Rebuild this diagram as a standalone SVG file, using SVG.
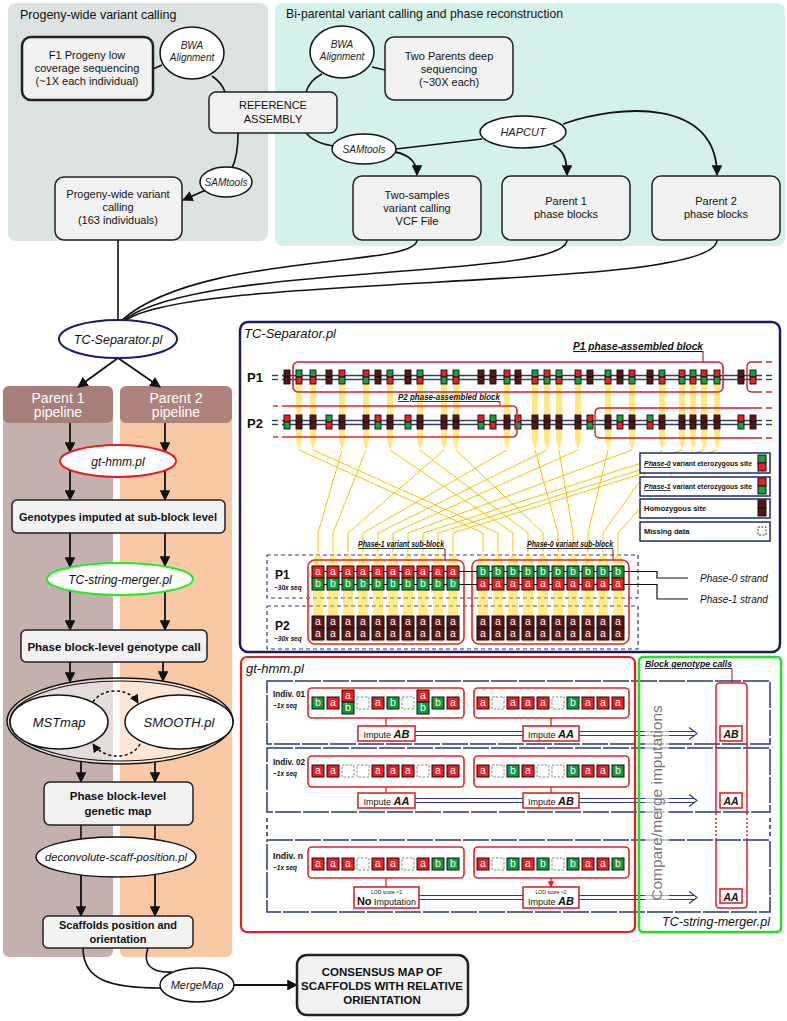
<svg xmlns="http://www.w3.org/2000/svg" width="787" height="1021" viewBox="0 0 787 1021">
<style>
text{font-family:"Liberation Sans",Arial,sans-serif;fill:#111}
.n{fill:#f2f2f2;stroke:#222;stroke-width:1.5}
.e{fill:#fff;stroke:#111;stroke-width:1.5}
.t{font-size:11px;text-anchor:middle}
.ti{font-size:10px;font-style:italic;text-anchor:middle;fill:#222}
.b{font-weight:bold}
.c{fill:none;stroke:#111;stroke-width:1.6}
.ca{fill:none;stroke:#111;stroke-width:1.8;marker-end:url(#ah)}
.cw{font-size:10.5px;fill:#fff;text-anchor:middle}
.yl{fill:none;stroke:#f5c400;stroke-width:1}
.rb{fill:none;stroke:#d62a2a;stroke-width:1.6}
.nv{fill:none;stroke:#2b3a78;stroke-width:1.5;stroke-dasharray:26 2}
.lg{fill:#fff;stroke:#1f2d6b;stroke-width:1.5}
.lt{font-size:7.5px;font-weight:bold}
.dl{fill:none;stroke:#2b3a78;stroke-width:1.2}
.im{fill:#fff;stroke:#d62a2a;stroke-width:1.6}
.pl{stroke:#33415f;stroke-width:1.4}
.il{font-size:8.5px;font-weight:bold}
.is{font-size:6.5px;font-weight:bold;font-style:italic}
</style>
<defs>
<marker id="ah" viewBox="0 0 10 10" refX="9" refY="5" markerWidth="6" markerHeight="6" orient="auto"><path d="M0,0 L10,5 L0,10 z" fill="#111"/></marker>
<marker id="ahr" viewBox="0 0 10 10" refX="9" refY="5" markerWidth="5" markerHeight="5" orient="auto"><path d="M0,0 L10,5 L0,10 z" fill="#e02020"/></marker>
<g id="mGR"><rect x="-3" y="0" width="6" height="7" fill="#17a03c" stroke="#111" stroke-width="0.9"/><rect x="-3" y="7" width="6" height="7" fill="#ee1c24" stroke="#111" stroke-width="0.9"/></g>
<g id="mRG"><rect x="-3" y="0" width="6" height="7" fill="#ee1c24" stroke="#111" stroke-width="0.9"/><rect x="-3" y="7" width="6" height="7" fill="#17a03c" stroke="#111" stroke-width="0.9"/></g>
<g id="mDD"><rect x="-3" y="0" width="6" height="7" fill="#5a1616" stroke="#111" stroke-width="0.9"/><rect x="-3" y="7" width="6" height="7" fill="#5a1616" stroke="#111" stroke-width="0.9"/></g>
<rect id="cr" x="-6" width="12" height="12" fill="#ee1c24" stroke="#111" stroke-width="1"/>
<rect id="cg" x="-6" width="12" height="12" fill="#15983b" stroke="#111" stroke-width="1"/>
<rect id="cd" x="-6" width="12" height="12" fill="#5a1616" stroke="#111" stroke-width="1"/>
<rect id="cm" x="-6" width="12" height="12" fill="#fff" stroke="#888" stroke-width="1" stroke-dasharray="2.5 1.5"/>
<polygon id="yb" points="-3,384 3,384 3,440 0,450 -3,440" fill="#ffd400" opacity="0.5"/>
<polygon id="yc" points="0,552 5,560 5,642 -5,642 -5,560" fill="#ffd400" opacity="0.45"/>
</defs>
<rect width="787" height="1021" fill="#fff"/>

<!-- top panels -->
<g id="panel-progeny"><rect x="8" y="3" width="260" height="238" rx="8" fill="#dde3e3"/><text x="20" y="19" font-size="12.5">Progeny-wide variant calling</text></g>
<g id="panel-biparental"><rect x="275" y="3" width="510" height="243" rx="8" fill="#d5f1ec"/><text x="286" y="18" font-size="12.2">Bi-parental variant calling and phase reconstruction</text></g>

<!-- left pipeline columns -->
<g id="col-parent1"><rect x="3" y="386" width="110" height="571" rx="6" fill="#c4b1ae"/><rect x="3" y="386" width="110" height="37" rx="6" fill="#a67f7a"/><text x="58" y="403" font-size="14" text-anchor="middle" style="fill:#fff">Parent 1</text><text x="58" y="417" font-size="14" text-anchor="middle" style="fill:#fff">pipeline</text></g>
<g id="col-parent2"><rect x="120" y="386" width="112" height="571" rx="6" fill="#f9c8a4"/><rect x="120" y="386" width="112" height="37" rx="6" fill="#ae837e"/><text x="176" y="403" font-size="14" text-anchor="middle" style="fill:#fff">Parent 2</text><text x="176" y="417" font-size="14" text-anchor="middle" style="fill:#fff">pipeline</text></g>

<!-- connectors -->
<g id="connectors">
<path class="c" d="M153,69 L162,65"/>
<path class="c" d="M212,76 Q222,83 225,92"/>
<path class="c" d="M238,133 C238,150 236,160 232,168"/>
<path class="ca" d="M206,190 L183,200"/>
<path class="c" d="M372,67 L385,70"/>
<path class="c" d="M322,74 Q310,80 306,92"/>
<path class="c" d="M306,133 Q314,143 333,146"/>
<path class="ca" d="M395,152 C410,155 417,162 417,175"/>
<path class="c" d="M396,149 L482,139"/>
<path class="ca" d="M553,145 C563,150 567,158 567,175"/>
<path class="ca" d="M563,124 C620,104 717,98 717,175"/>
<path class="c" d="M118,240 L118,320"/>
<path class="c" d="M417,240 C417,268 200,252 122,320"/>
<path class="c" d="M567,240 C567,280 200,262 124,320"/>
<path class="c" d="M717,240 C717,292 200,272 126,320"/>
<path class="ca" d="M118,358 L78,387"/>
<path class="ca" d="M118,358 L160,387"/>
<path class="ca" d="M70,423 L70,452"/>
<path class="ca" d="M165,423 L165,452"/>
<path class="ca" d="M70,470 L70,500"/>
<path class="ca" d="M165,470 L165,500"/>
<path class="ca" d="M70,533 L70,567"/>
<path class="ca" d="M165,533 L165,566"/>
<path class="ca" d="M70,591 L70,630"/>
<path class="ca" d="M165,591 L165,630"/>
<path class="ca" d="M70,662 L70,682"/>
<path class="ca" d="M163,662 L163,681"/>
<path class="ca" d="M81,761 L81,782"/>
<path class="ca" d="M155,762 L155,782"/>
<path class="c" d="M81,825 L81,839"/>
<path class="c" d="M155,825 L155,839"/>
<path class="ca" d="M81,875 L81,916"/>
<path class="ca" d="M155,875 L155,916"/>
<path class="c" d="M83,948 C83,980 110,988 160,988"/>
<path class="c" d="M148,948 C142,965 152,973 172,972"/>
<path class="ca" d="M234,985 L297,985"/>
</g>

<!-- top nodes -->
<g id="node-f1"><rect class="n" x="22" y="37" width="131" height="63" rx="9" style="stroke-width:2.5"/><text class="t" x="87" y="59">F1 Progeny low</text><text class="t" x="87" y="72">coverage sequencing</text><text class="t" x="87" y="85">(~1X each individual)</text></g>
<g id="node-bwa1"><ellipse class="e" cx="192" cy="53" rx="32" ry="26"/><text class="ti" x="192" y="49">BWA</text><text class="ti" x="192" y="61">Alignment</text></g>
<g id="node-ref"><rect class="n" x="209" y="92" width="128" height="41" rx="7"/><text class="t" x="273" y="109">REFERENCE</text><text class="t" x="273" y="123">ASSEMBLY</text></g>
<g id="node-sam1"><ellipse class="e" cx="226" cy="182" rx="26" ry="15"/><text class="ti" x="226" y="186">SAMtools</text></g>
<g id="node-progeny"><rect class="n" x="55" y="177" width="127" height="63" rx="9"/><text class="t" x="118" y="198">Progeny-wide variant</text><text class="t" x="118" y="211">calling</text><text class="t" x="118" y="224">(163 individuals)</text></g>
<g id="node-bwa2"><ellipse class="e" cx="342" cy="52" rx="32" ry="26"/><text class="ti" x="342" y="48">BWA</text><text class="ti" x="342" y="60">Alignment</text></g>
<g id="node-parents"><rect class="n" x="385" y="37" width="128" height="63" rx="9"/><text class="t" x="449" y="60">Two Parents deep</text><text class="t" x="449" y="73">sequencing</text><text class="t" x="449" y="86">(~30X each)</text></g>
<g id="node-sam2"><ellipse class="e" cx="364" cy="149" rx="32" ry="15"/><text class="ti" x="364" y="153">SAMtools</text></g>
<g id="node-hapcut"><ellipse class="e" cx="523" cy="132" rx="43" ry="16"/><text class="ti" x="523" y="136" style="font-size:11px">HAPCUT</text></g>
<g id="node-vcf"><rect class="n" x="353" y="176" width="128" height="64" rx="9"/><text class="t" x="417" y="199">Two-samples</text><text class="t" x="417" y="212">variant calling</text><text class="t" x="417" y="225">VCF File</text></g>
<g id="node-p1blocks"><rect class="n" x="502" y="176" width="128" height="64" rx="9"/><text class="t" x="566" y="205">Parent 1</text><text class="t" x="566" y="218">phase blocks</text></g>
<g id="node-p2blocks"><rect class="n" x="652" y="176" width="128" height="64" rx="9"/><text class="t" x="716" y="205">Parent 2</text><text class="t" x="716" y="218">phase blocks</text></g>

<!-- left pipeline nodes -->
<g id="node-tcsep"><ellipse cx="118" cy="339" rx="59" ry="19" fill="#fff" stroke="#1b1b6b" stroke-width="2"/><text x="118" y="344" font-size="12.5" font-style="italic" text-anchor="middle">TC-Separator.pl</text></g>
<g id="node-gthmm"><ellipse cx="118" cy="461" rx="58" ry="16" fill="#fff" stroke="#e01f1f" stroke-width="2"/><text x="118" y="466" font-size="12" font-style="italic" text-anchor="middle">gt-hmm.pl</text></g>
<g id="node-imputed"><rect class="n" x="12" y="500" width="213" height="33" rx="5"/><text class="t b" x="118" y="521">Genotypes imputed at sub-block level</text></g>
<g id="node-merger"><ellipse cx="120" cy="579" rx="73" ry="16" fill="#fff" stroke="#22ee22" stroke-width="2"/><text x="120" y="584" font-size="12" font-style="italic" text-anchor="middle">TC-string-merger.pl</text></g>
<g id="node-blockcall"><rect class="n" x="21" y="630" width="186" height="32" rx="5"/><text class="t b" x="114" y="651" style="font-size:11.5px">Phase block-level genotype call</text></g>
<g id="node-mapping"><ellipse cx="120" cy="721" rx="113" ry="43" fill="#fff" fill-opacity="0.55" stroke="#111" stroke-width="1.5"/><ellipse cx="120" cy="721" rx="110" ry="40" fill="none" stroke="#111" stroke-width="1.2"/>
<ellipse class="e" cx="59" cy="722" rx="49" ry="27"/><text x="59" y="727" font-size="13" font-style="italic" text-anchor="middle">MSTmap</text>
<ellipse class="e" cx="179" cy="722" rx="54" ry="27"/><text x="179" y="727" font-size="13" font-style="italic" text-anchor="middle">SMOOTH.pl</text>
<path d="M93,702 C102,688 128,686 138,703" fill="none" stroke="#111" stroke-width="1.5" stroke-dasharray="3 2.5" marker-end="url(#ah)"/>
<path d="M140,744 C132,760 104,760 93,744" fill="none" stroke="#111" stroke-width="1.5" stroke-dasharray="3 2.5" marker-end="url(#ah)"/></g>
<g id="node-genmap"><rect class="n" x="44" y="782" width="149" height="43" rx="6"/><text class="t b" x="118" y="800" style="font-size:11.5px">Phase block-level</text><text class="t b" x="118" y="815" style="font-size:11.5px">genetic map</text></g>
<g id="node-deconv"><ellipse class="e" cx="116" cy="857" rx="80" ry="20"/><text x="116" y="861" font-size="11.2" font-style="italic" text-anchor="middle">deconvolute-scaff-position.pl</text></g>
<g id="node-scaff"><rect class="n" x="43" y="916" width="150" height="32" rx="5"/><text class="t b" x="118" y="929">Scaffolds position and</text><text class="t b" x="118" y="943">orientation</text></g>
<g id="node-mergemap"><ellipse class="e" cx="197" cy="985" rx="37" ry="17"/><text x="197" y="989" font-size="11" font-style="italic" text-anchor="middle">MergeMap</text></g>
<g id="node-consensus"><rect class="n" x="297" y="955" width="171" height="60" rx="10" style="stroke-width:2.5"/><text class="t b" x="382" y="976" style="font-size:11.5px">CONSENSUS MAP OF</text><text class="t b" x="382" y="990" style="font-size:11.5px">SCAFFOLDS WITH RELATIVE</text><text class="t b" x="382" y="1004" style="font-size:11.5px">ORIENTATION</text></g>

<!-- TC-Separator panel -->
<g id="panel-tcsep">
<rect x="240" y="322" width="540" height="330" rx="8" fill="#fff"/>
<text x="244" y="338" font-size="13" font-style="italic">TC-Separator.pl</text>
<text x="247" y="382" font-size="13" font-weight="bold">P1</text>
<text x="247" y="428" font-size="13" font-weight="bold">P2</text>
<line class="pl" x1="272" y1="375.5" x2="278" y2="375.5"/><line class="pl" x1="272" y1="379.5" x2="278" y2="379.5"/>
<line class="pl" x1="282" y1="375.5" x2="762" y2="375.5"/><line class="pl" x1="282" y1="379.5" x2="762" y2="379.5"/>
<line class="pl" x1="766" y1="375.5" x2="772" y2="375.5"/><line class="pl" x1="766" y1="379.5" x2="772" y2="379.5"/>
<line class="pl" x1="272" y1="420.5" x2="278" y2="420.5"/><line class="pl" x1="272" y1="424.5" x2="278" y2="424.5"/>
<line class="pl" x1="282" y1="420.5" x2="762" y2="420.5"/><line class="pl" x1="282" y1="424.5" x2="762" y2="424.5"/>
<line class="pl" x1="766" y1="420.5" x2="772" y2="420.5"/><line class="pl" x1="766" y1="424.5" x2="772" y2="424.5"/>
<use href="#yb" x="299"/><use href="#yb" x="313"/><use href="#yb" x="342"/><use href="#yb" x="366"/><use href="#yb" x="390"/><use href="#yb" x="420"/><use href="#yb" x="444"/><use href="#yb" x="456"/><use href="#yb" x="507"/><use href="#yb" x="535"/><use href="#yb" x="547"/><use href="#yb" x="559"/><use href="#yb" x="578"/><use href="#yb" x="608"/><use href="#yb" x="632"/><use href="#yb" x="662"/><use href="#yb" x="682"/><use href="#yb" x="693"/><use href="#yb" x="704"/><use href="#yb" x="717"/>
<path class="yl" d="M342,450 L318,533 L318,552 M366,450 L333,533 L333,552 M444,450 L348,533 L348,552 M507,450 L363,533 L363,552 M547,450 L378,533 L378,552 M578,450 L393,533 L393,552 M632,450 L408,533 L408,552 M682,450 L423,533 L423,552 M704,450 L438,533 L438,552 M717,450 L453,533 L453,552"/>
<path class="yl" d="M299,450 L483,533 L483,552 M313,450 L498,533 L498,552 M390,450 L513,533 L513,552 M420,450 L528,533 L528,552 M456,450 L543,533 L543,552 M535,450 L558,533 L558,552 M559,450 L573,533 L573,552 M608,450 L588,533 L588,552 M662,450 L603,533 L603,552 M693,450 L618,533 L618,552"/>
<g transform="translate(0,370)">
<use href="#mDD" x="287"/><use href="#mGR" x="299"/><use href="#mGR" x="313"/><use href="#mDD" x="329"/><use href="#mRG" x="342"/><use href="#mRG" x="366"/><use href="#mDD" x="378"/><use href="#mGR" x="390"/><use href="#mDD" x="408"/><use href="#mGR" x="420"/><use href="#mRG" x="444"/><use href="#mGR" x="456"/><use href="#mDD" x="481"/><use href="#mDD" x="493"/><use href="#mRG" x="507"/><use href="#mDD" x="518"/><use href="#mGR" x="535"/><use href="#mRG" x="547"/><use href="#mGR" x="559"/><use href="#mRG" x="578"/><use href="#mDD" x="590"/><use href="#mGR" x="608"/><use href="#mDD" x="620"/><use href="#mRG" x="632"/><use href="#mDD" x="650"/><use href="#mGR" x="662"/><use href="#mRG" x="682"/><use href="#mGR" x="693"/><use href="#mRG" x="704"/><use href="#mRG" x="717"/><use href="#mDD" x="741"/><use href="#mGR" x="753"/>
</g>
<g transform="translate(0,415)">
<use href="#mRG" x="287"/><use href="#mDD" x="299"/><use href="#mDD" x="313"/><use href="#mGR" x="329"/><use href="#mDD" x="342"/><use href="#mDD" x="366"/><use href="#mRG" x="378"/><use href="#mDD" x="390"/><use href="#mRG" x="408"/><use href="#mDD" x="420"/><use href="#mDD" x="444"/><use href="#mDD" x="456"/><use href="#mRG" x="481"/><use href="#mGR" x="493"/><use href="#mDD" x="507"/><use href="#mRG" x="518"/><use href="#mDD" x="535"/><use href="#mDD" x="547"/><use href="#mDD" x="559"/><use href="#mDD" x="578"/><use href="#mRG" x="590"/><use href="#mDD" x="608"/><use href="#mGR" x="620"/><use href="#mDD" x="632"/><use href="#mGR" x="650"/><use href="#mDD" x="662"/><use href="#mDD" x="682"/><use href="#mDD" x="693"/><use href="#mDD" x="704"/><use href="#mDD" x="717"/><use href="#mRG" x="741"/><use href="#mDD" x="753"/>
</g>
<rect x="293" y="362" width="430" height="30" rx="5" fill="none" stroke="#c0282d" stroke-width="1.6"/>
<path d="M762,362 L752,362 Q747,362 747,367 L747,387 Q747,392 752,392 L762,392 M766,362 L772,362 M766,392 L772,392" fill="none" stroke="#c0282d" stroke-width="1.4"/>
<path d="M282,406 L512,406 Q517,406 517,411 L517,432 Q517,437 512,437 L282,437 M273,406 L278,406 M273,437 L278,437" fill="none" stroke="#e02a2a" stroke-width="1.6"/>
<path d="M762,408 L600,408 Q595,408 595,413 L595,433 Q595,438 600,438 L762,438 M766,408 L772,408 M766,438 L772,438" fill="none" stroke="#c0282d" stroke-width="1.4"/>
<text x="573" y="350" font-size="10.5" font-weight="bold" font-style="italic" text-decoration="underline" textLength="130" lengthAdjust="spacingAndGlyphs">P1 phase-assembled block</text>
<path d="M703,351 L703,362" stroke="#c0282d" stroke-width="1.2"/>
<text x="398" y="400" font-size="8.5" font-weight="bold" font-style="italic" text-decoration="underline" textLength="102" lengthAdjust="spacingAndGlyphs">P2 phase-assembled block</text>
<path d="M498,402 L500,402 L500,406" fill="none" stroke="#e02a2a" stroke-width="1.2"/>
<g id="legend">
<rect class="lg" x="640" y="453" width="130" height="20"/><text class="lt" x="644" y="466" textLength="108" lengthAdjust="spacingAndGlyphs"><tspan font-style="italic" text-decoration="underline">Phase-0</tspan> variant eterozygous site</text><rect x="758" y="455" width="8" height="8" fill="#17a03c" stroke="#111"/><rect x="758" y="463" width="8" height="8" fill="#ee1c24" stroke="#111"/>
<rect class="lg" x="640" y="477" width="130" height="19"/><text class="lt" x="644" y="489" textLength="108" lengthAdjust="spacingAndGlyphs"><tspan font-style="italic" text-decoration="underline">Phase-1</tspan> variant eterozygous site</text><rect x="758" y="478" width="8" height="8" fill="#ee1c24" stroke="#111"/><rect x="758" y="486" width="8" height="8" fill="#17a03c" stroke="#111"/>
<rect class="lg" x="640" y="499" width="130" height="19"/><text class="lt" x="644" y="511">Homozygous site</text><rect x="758" y="500" width="8" height="8" fill="#5a1616" stroke="#111"/><rect x="758" y="508" width="8" height="8" fill="#5a1616" stroke="#111"/>
<rect class="lg" x="640" y="522" width="130" height="19"/><text class="lt" x="644" y="534">Missing data</text><rect x="758" y="527" width="8" height="8" fill="#fff" stroke="#333" stroke-dasharray="2 1.5"/>
</g>
<rect x="267" y="555" width="371" height="43" fill="none" stroke="#2b3a78" stroke-width="1.2" stroke-dasharray="4 3"/>
<rect x="267" y="606" width="371" height="43" fill="none" stroke="#2b3a78" stroke-width="1.2" stroke-dasharray="4 3"/>
<text x="275" y="579" font-size="12" font-weight="bold">P1</text><text x="274" y="590" font-size="6.5" font-weight="bold" font-style="italic">~30x seq</text>
<text x="275" y="630" font-size="12" font-weight="bold">P2</text><text x="274" y="641" font-size="6.5" font-weight="bold" font-style="italic">~30x seq</text>
<use href="#yc" x="318"/><use href="#yc" x="333"/><use href="#yc" x="348"/><use href="#yc" x="363"/><use href="#yc" x="378"/><use href="#yc" x="393"/><use href="#yc" x="408"/><use href="#yc" x="423"/><use href="#yc" x="438"/><use href="#yc" x="453"/><use href="#yc" x="483"/><use href="#yc" x="498"/><use href="#yc" x="513"/><use href="#yc" x="528"/><use href="#yc" x="543"/><use href="#yc" x="558"/><use href="#yc" x="573"/><use href="#yc" x="588"/><use href="#yc" x="603"/><use href="#yc" x="618"/>
<rect x="308" y="560" width="156" height="84" rx="7" fill="none" stroke="#e02a2a" stroke-width="1.6"/>
<rect x="472" y="560" width="157" height="84" rx="7" fill="none" stroke="#e02a2a" stroke-width="1.6"/>
<text x="358" y="547" font-size="8.2" font-weight="bold" font-style="italic" text-decoration="underline" textLength="86" lengthAdjust="spacingAndGlyphs">Phase-1 variant sub-block</text>
<path d="M444,549 L445,549 L445,560" fill="none" stroke="#c0282d" stroke-width="1.2"/>
<text x="527" y="547" font-size="8.2" font-weight="bold" font-style="italic" text-decoration="underline" textLength="86" lengthAdjust="spacingAndGlyphs">Phase-0 variant sub-block</text>
<path d="M613,549 L613,560" fill="none" stroke="#c0282d" stroke-width="1.2"/>
<path d="M312,571.5 L657,571.5 L657,578 L688,578 M312,584.5 L657,584.5 L657,599 L688,599" fill="none" stroke="#111" stroke-width="1.2"/>
<g transform="translate(0,566)"><use href="#cr" x="318"/><use href="#cr" x="333"/><use href="#cr" x="348"/><use href="#cr" x="363"/><use href="#cr" x="378"/><use href="#cr" x="393"/><use href="#cr" x="408"/><use href="#cr" x="423"/><use href="#cr" x="438"/><use href="#cr" x="453"/><use href="#cg" x="483"/><use href="#cg" x="498"/><use href="#cg" x="513"/><use href="#cg" x="528"/><use href="#cg" x="543"/><use href="#cg" x="558"/><use href="#cg" x="573"/><use href="#cg" x="588"/><use href="#cg" x="603"/><use href="#cg" x="618"/></g>
<g transform="translate(0,578)"><use href="#cg" x="318"/><use href="#cg" x="333"/><use href="#cg" x="348"/><use href="#cg" x="363"/><use href="#cg" x="378"/><use href="#cg" x="393"/><use href="#cg" x="408"/><use href="#cg" x="423"/><use href="#cg" x="438"/><use href="#cg" x="453"/><use href="#cr" x="483"/><use href="#cr" x="498"/><use href="#cr" x="513"/><use href="#cr" x="528"/><use href="#cr" x="543"/><use href="#cr" x="558"/><use href="#cr" x="573"/><use href="#cr" x="588"/><use href="#cr" x="603"/><use href="#cr" x="618"/></g>
<g transform="translate(0,616)"><use href="#cd" x="318"/><use href="#cd" x="333"/><use href="#cd" x="348"/><use href="#cd" x="363"/><use href="#cd" x="378"/><use href="#cd" x="393"/><use href="#cd" x="408"/><use href="#cd" x="423"/><use href="#cd" x="438"/><use href="#cd" x="453"/><use href="#cd" x="483"/><use href="#cd" x="498"/><use href="#cd" x="513"/><use href="#cd" x="528"/><use href="#cd" x="543"/><use href="#cd" x="558"/><use href="#cd" x="573"/><use href="#cd" x="588"/><use href="#cd" x="603"/><use href="#cd" x="618"/></g>
<g transform="translate(0,628)"><use href="#cd" x="318"/><use href="#cd" x="333"/><use href="#cd" x="348"/><use href="#cd" x="363"/><use href="#cd" x="378"/><use href="#cd" x="393"/><use href="#cd" x="408"/><use href="#cd" x="423"/><use href="#cd" x="438"/><use href="#cd" x="453"/><use href="#cd" x="483"/><use href="#cd" x="498"/><use href="#cd" x="513"/><use href="#cd" x="528"/><use href="#cd" x="543"/><use href="#cd" x="558"/><use href="#cd" x="573"/><use href="#cd" x="588"/><use href="#cd" x="603"/><use href="#cd" x="618"/></g>
<text class="cw" x="318 333 348 363 378 393 408 423 438 453 483 498 513 528 543 558 573 588 603 618" y="575">aaaaaaaaaabbbbbbbbbb</text>
<text class="cw" x="318 333 348 363 378 393 408 423 438 453 483 498 513 528 543 558 573 588 603 618" y="587">bbbbbbbbbbaaaaaaaaaa</text>
<text class="cw" x="318 333 348 363 378 393 408 423 438 453 483 498 513 528 543 558 573 588 603 618" y="625">aaaaaaaaaaaaaaaaaaaa</text>
<text class="cw" x="318 333 348 363 378 393 408 423 438 453 483 498 513 528 543 558 573 588 603 618" y="637">aaaaaaaaaaaaaaaaaaaa</text>
<text x="700" y="582" font-size="10" font-style="italic">Phase-0 strand</text>
<text x="700" y="603" font-size="10" font-style="italic">Phase-1 strand</text>
<rect x="240" y="322" width="540" height="330" rx="8" fill="none" stroke="#1a1a66" stroke-width="2.5"/>
</g>

<!-- gt-hmm and merger panels -->
<g id="panel-gthmm">
<rect x="241" y="657" width="394" height="275" rx="6" fill="#fff"/>
<rect x="639" y="657" width="142" height="275" rx="4" fill="#fff"/>
<text x="246" y="673" font-size="13" font-style="italic">gt-hmm.pl</text>
<text x="645" y="667" font-size="8.5" font-weight="bold" font-style="italic" text-decoration="underline" textLength="87" lengthAdjust="spacingAndGlyphs">Block genotype calls</text>
<path d="M732,669 L732,683" stroke="#e02a2a" stroke-width="1.2"/>
<rect class="nv" x="267" y="681" width="503" height="63"/>
<rect class="nv" x="267" y="748" width="503" height="64"/>
<rect class="nv" x="267" y="840" width="503" height="72"/>
<path d="M267,818 L267,836 M770,818 L770,836" stroke="#2b3a78" stroke-width="1.6" stroke-dasharray="4 3"/>
<text class="il" x="273" y="697" textLength="32" lengthAdjust="spacingAndGlyphs">Indiv. 01</text><text class="is" x="273" y="708">~1x seq</text>
<text class="il" x="273" y="765" textLength="32" lengthAdjust="spacingAndGlyphs">Indiv. 02</text><text class="is" x="273" y="776">~1x seq</text>
<text class="il" x="273" y="859" textLength="30" lengthAdjust="spacingAndGlyphs">Indiv. n</text><text class="is" x="273" y="870">~1x seq</text>
<rect class="rb" x="308" y="688" width="156" height="30" rx="4"/><rect class="rb" x="474" y="688" width="155" height="30" rx="4"/>
<rect class="rb" x="308" y="756" width="156" height="31" rx="4"/><rect class="rb" x="474" y="756" width="155" height="31" rx="4"/>
<rect class="rb" x="308" y="847" width="156" height="31" rx="4"/><rect class="rb" x="474" y="847" width="155" height="31" rx="4"/>
<g transform="translate(0,697)"><use href="#cg" x="318"/><use href="#cr" x="333"/><use href="#cm" x="363"/><use href="#cr" x="378"/><use href="#cg" x="393"/><use href="#cm" x="408"/><use href="#cg" x="438"/><use href="#cr" x="453"/><use href="#cr" x="483"/><use href="#cm" x="498"/><use href="#cr" x="513"/><use href="#cr" x="528"/><use href="#cr" x="543"/><use href="#cm" x="558"/><use href="#cg" x="573"/><use href="#cr" x="588"/><use href="#cr" x="603"/><use href="#cr" x="618"/></g>
<g transform="translate(0,690)"><use href="#cr" x="348"/><use href="#cr" x="423"/></g>
<g transform="translate(0,702)"><use href="#cg" x="348"/><use href="#cg" x="423"/></g>
<text class="cw" x="318 333" y="706">ba</text>
<text class="cw" x="378 393" y="706">ab</text>
<text class="cw" x="438 453" y="706">ba</text>
<text class="cw" x="483 513 528 543 573 588 603 618" y="706">aaaabaaa</text>
<text class="cw" x="348" y="699">a</text><text class="cw" x="348" y="711">b</text>
<text class="cw" x="423" y="699">a</text><text class="cw" x="423" y="711">b</text>
<g transform="translate(0,765)"><use href="#cr" x="318"/><use href="#cr" x="333"/><use href="#cm" x="348"/><use href="#cm" x="363"/><use href="#cr" x="378"/><use href="#cr" x="393"/><use href="#cr" x="408"/><use href="#cm" x="423"/><use href="#cr" x="438"/><use href="#cr" x="453"/><use href="#cr" x="483"/><use href="#cm" x="498"/><use href="#cg" x="513"/><use href="#cr" x="528"/><use href="#cm" x="543"/><use href="#cm" x="558"/><use href="#cg" x="573"/><use href="#cr" x="588"/><use href="#cr" x="603"/><use href="#cg" x="618"/></g>
<text class="cw" x="318 333 378 393 408 438 453 483 513 528 573 588 603 618" y="774">aaaaaaaababaab</text>
<g transform="translate(0,858)"><use href="#cr" x="318"/><use href="#cr" x="333"/><use href="#cr" x="348"/><use href="#cm" x="363"/><use href="#cr" x="378"/><use href="#cr" x="393"/><use href="#cm" x="408"/><use href="#cr" x="423"/><use href="#cg" x="438"/><use href="#cg" x="453"/><use href="#cr" x="483"/><use href="#cm" x="498"/><use href="#cg" x="513"/><use href="#cr" x="528"/><use href="#cg" x="543"/><use href="#cm" x="558"/><use href="#cg" x="573"/><use href="#cr" x="588"/><use href="#cr" x="603"/><use href="#cg" x="618"/></g>
<text class="cw" x="318 333 348 378 393 423 438 453 483 513 528 543 573 588 603 618" y="867">aaaaaabbababbaab</text>
<path d="M386,718 L386,726 M551,718 L551,726 M386,787 L386,793 M551,787 L551,793 M386,878 L386,887 M551,878 L551,887" stroke="#e02020" stroke-width="1.3" marker-end="url(#ahr)"/>
<path class="dl" d="M415,731.5 L523,731.5 M415,735.5 L523,735.5 M579,731.5 L695,731.5 M579,735.5 L695,735.5 M689,727.5 L697,733.5 L689,739.5"/>
<path class="dl" d="M415,798.5 L523,798.5 M415,802.5 L523,802.5 M579,798.5 L695,798.5 M579,802.5 L695,802.5 M689,794.5 L697,800.5 L689,806.5"/>
<path class="dl" d="M419,895.5 L523,895.5 M419,899.5 L523,899.5 M579,895.5 L695,895.5 M579,899.5 L695,899.5 M689,891.5 L697,897.5 L689,903.5"/>
<rect class="im" x="358" y="726" width="57" height="15"/><text x="386.5" y="737.5" font-size="9" text-anchor="middle">Impute <tspan font-size="11" font-weight="bold" font-style="italic">AB</tspan></text>
<rect class="im" x="523" y="726" width="56" height="15"/><text x="551" y="737.5" font-size="9" text-anchor="middle">Impute <tspan font-size="11" font-weight="bold" font-style="italic">AA</tspan></text>
<rect class="im" x="358" y="793" width="57" height="15"/><text x="386.5" y="804.5" font-size="9" text-anchor="middle">Impute <tspan font-size="11" font-weight="bold" font-style="italic">AA</tspan></text>
<rect class="im" x="523" y="793" width="56" height="15"/><text x="551" y="804.5" font-size="9" text-anchor="middle">Impute <tspan font-size="11" font-weight="bold" font-style="italic">AB</tspan></text>
<rect class="im" x="354" y="887" width="65" height="21"/><text x="386.5" y="894" font-size="5" text-anchor="middle">LOD score &lt;2</text><text x="386.5" y="905" font-size="9" text-anchor="middle"><tspan font-size="11" font-weight="bold">No</tspan> Imputation</text>
<rect class="im" x="523" y="887" width="56" height="21"/><text x="551" y="894" font-size="5" text-anchor="middle">LOD score &gt;2</text><text x="551" y="905" font-size="9" text-anchor="middle">Impute <tspan font-size="11" font-weight="bold" font-style="italic">AB</tspan></text>
<rect x="645" y="700" width="24" height="205" fill="#fff" opacity="0.6"/>
<text transform="translate(662,803) rotate(-90)" font-size="15.5" text-anchor="middle" style="fill:#7a7a7a">Compare/merge imputations</text>
<path d="M716,815 L716,687 Q716,683 720,683 L743,683 Q747,683 747,687 L747,815 M716,838 L716,904 Q716,908 720,908 L743,908 Q747,908 747,904 L747,838" fill="none" stroke="#d02828" stroke-width="1.5"/>
<path d="M716,818 L716,836 M747,818 L747,836" stroke="#d02828" stroke-width="1.5" stroke-dasharray="2 2"/>
<rect class="im" x="720" y="726" width="22" height="15"/><text x="731" y="738" font-size="10.5" font-weight="bold" font-style="italic" text-anchor="middle">AB</text>
<rect class="im" x="720" y="793" width="22" height="15"/><text x="731" y="805" font-size="10.5" font-weight="bold" font-style="italic" text-anchor="middle">AA</text>
<rect class="im" x="720" y="889" width="22" height="14"/><text x="731" y="900.5" font-size="10.5" font-weight="bold" font-style="italic" text-anchor="middle">AA</text>
<text x="770" y="926" font-size="12.5" font-style="italic" text-anchor="end">TC-string-merger.pl</text>
<rect x="241" y="657" width="394" height="275" rx="6" fill="none" stroke="#e81e1e" stroke-width="2.2"/>
<rect x="639" y="657" width="142" height="275" rx="4" fill="none" stroke="#22e022" stroke-width="2.5"/>
</g>
</svg>
